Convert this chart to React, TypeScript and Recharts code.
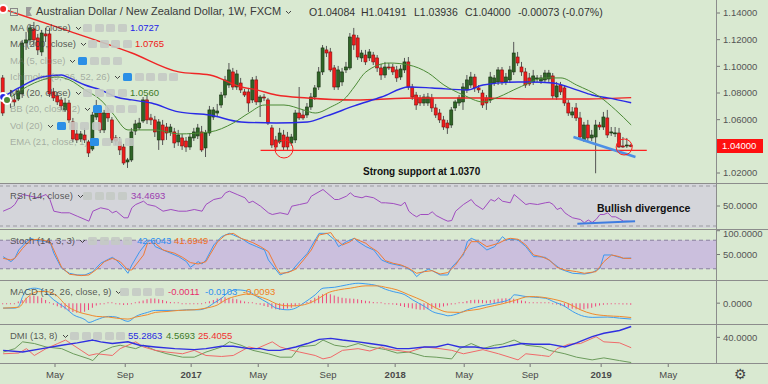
import React from "react";
import {
  ComposedChart,
  Bar,
  Line,
  XAxis,
  YAxis,
  ReferenceLine,
  ReferenceArea,
  ReferenceDot,
} from "recharts";

const W = 768;
const AXIS_W = 51;
const X_DOMAIN = [-0.8, 183];
const BG = "#d9e9d1";
const FONT = "'Liberation Sans', Arial, sans-serif";

// weekly AUD/NZD candles, Feb 2016 -> Feb 2019: [open, high, low, close]
const ohlc = [
  [1.0913, 1.0935, 1.0628, 1.065], [1.0748, 1.08, 1.0725, 1.0778], [1.0763, 1.0823, 1.0688, 1.0733],
  [1.0748, 1.0778, 1.0703, 1.0733], [1.0755, 1.0838, 1.074, 1.0815], [1.0793, 1.1198, 1.0763, 1.1175],
  [1.1175, 1.1258, 1.1123, 1.1198], [1.1198, 1.1318, 1.116, 1.1288], [1.128, 1.1333, 1.1153, 1.1198],
  [1.1213, 1.1243, 1.1085, 1.1123], [1.1108, 1.1273, 1.1078, 1.125], [1.1243, 1.1288, 1.1183, 1.1228],
  [1.1243, 1.1288, 1.077, 1.0793], [1.0808, 1.0838, 1.074, 1.0763], [1.0778, 1.0808, 1.071, 1.0733],
  [1.0748, 1.077, 1.0673, 1.0703], [1.0673, 1.0763, 1.0658, 1.0725], [1.0725, 1.0748, 1.0575, 1.0598],
  [1.0583, 1.0613, 1.0433, 1.0455], [1.0493, 1.0523, 1.0425, 1.0448], [1.0455, 1.0515, 1.0433, 1.0493],
  [1.0485, 1.0538, 1.0425, 1.0448], [1.0433, 1.0448, 1.032, 1.035], [1.038, 1.0658, 1.0365, 1.0635],
  [1.062, 1.0748, 1.0598, 1.0658], [1.065, 1.0673, 1.05, 1.0523], [1.0523, 1.0673, 1.05, 1.065],
  [1.065, 1.0688, 1.0583, 1.0613], [1.0598, 1.062, 1.0425, 1.0448], [1.0463, 1.0485, 1.041, 1.044],
  [1.0433, 1.047, 1.0335, 1.0373], [1.0395, 1.0418, 1.026, 1.0275], [1.0283, 1.0313, 1.0238, 1.0298],
  [1.0298, 1.0538, 1.0283, 1.0508], [1.0515, 1.0598, 1.0485, 1.0568], [1.0538, 1.0613, 1.0523, 1.0575],
  [1.059, 1.077, 1.0575, 1.0748], [1.0748, 1.0778, 1.0568, 1.0598], [1.0613, 1.0643, 1.056, 1.0598],
  [1.0598, 1.0628, 1.047, 1.0508], [1.0448, 1.0605, 1.0373, 1.0583], [1.056, 1.0598, 1.041, 1.0448],
  [1.0545, 1.0575, 1.0448, 1.05], [1.0508, 1.0568, 1.0478, 1.0545], [1.0508, 1.0538, 1.0388, 1.0425],
  [1.0433, 1.0523, 1.0403, 1.0485], [1.0463, 1.0493, 1.0373, 1.0403], [1.044, 1.047, 1.0358, 1.0395],
  [1.0395, 1.05, 1.0373, 1.047], [1.0463, 1.0538, 1.044, 1.0508], [1.0478, 1.0568, 1.0455, 1.0538],
  [1.0508, 1.0553, 1.0358, 1.0373], [1.0388, 1.0523, 1.032, 1.05], [1.05, 1.0703, 1.0478, 1.0673],
  [1.062, 1.0695, 1.0598, 1.0673], [1.065, 1.0718, 1.062, 1.0665], [1.071, 1.0808, 1.0688, 1.0785],
  [1.0785, 1.0928, 1.0763, 1.0898], [1.086, 1.1025, 1.0838, 1.0973], [1.0958, 1.0988, 1.0823, 1.0845],
  [1.0845, 1.0973, 1.0823, 1.0943], [1.0875, 1.0913, 1.08, 1.0823], [1.0808, 1.083, 1.077, 1.0785],
  [1.0808, 1.0838, 1.0658, 1.0725], [1.0748, 1.092, 1.0725, 1.0898], [1.0898, 1.0928, 1.071, 1.0733],
  [1.0733, 1.0785, 1.062, 1.077], [1.077, 1.0793, 1.074, 1.0763], [1.0748, 1.0763, 1.056, 1.0575],
  [1.0538, 1.056, 1.0388, 1.041], [1.0448, 1.0478, 1.0373, 1.0395], [1.0433, 1.0538, 1.0418, 1.05],
  [1.0485, 1.0523, 1.0373, 1.0395], [1.047, 1.0508, 1.0373, 1.0395], [1.0425, 1.0493, 1.0403, 1.047],
  [1.0448, 1.0673, 1.0425, 1.065], [1.065, 1.0845, 1.0598, 1.0613], [1.0635, 1.0673, 1.0598, 1.0613],
  [1.0635, 1.0725, 1.0613, 1.0695], [1.0695, 1.08, 1.0673, 1.077], [1.077, 1.086, 1.0748, 1.0838],
  [1.0845, 1.0995, 1.0823, 1.0958], [1.0958, 1.116, 1.0935, 1.1138], [1.1123, 1.1153, 1.107, 1.11],
  [1.1108, 1.1138, 1.0958, 1.0973], [1.0988, 1.101, 1.0823, 1.0845], [1.0845, 1.1003, 1.0823, 1.0973],
  [1.0883, 1.0988, 1.0853, 1.0958], [1.0973, 1.1033, 1.095, 1.0995], [1.0988, 1.125, 1.0973, 1.122],
  [1.1235, 1.1288, 1.1123, 1.116], [1.1213, 1.1235, 1.1048, 1.107], [1.1063, 1.1123, 1.1033, 1.11],
  [1.1085, 1.1123, 1.101, 1.1033], [1.1063, 1.113, 1.104, 1.1108], [1.1085, 1.1108, 1.101, 1.1033],
  [1.1063, 1.1085, 1.0958, 1.0988], [1.0988, 1.1018, 1.0898, 1.0935], [1.0935, 1.1033, 1.0913, 1.0995],
  [1.0995, 1.1025, 1.0973, 1.0988], [1.0995, 1.1018, 1.0935, 1.0958], [1.0973, 1.1003, 1.0883, 1.0913],
  [1.092, 1.101, 1.0898, 1.098], [1.0973, 1.1063, 1.095, 1.1033], [1.1033, 1.107, 1.0823, 1.0845],
  [1.0845, 1.0868, 1.0748, 1.077], [1.0785, 1.0808, 1.0673, 1.071], [1.0763, 1.0785, 1.0703, 1.0725],
  [1.0725, 1.0793, 1.0703, 1.077], [1.0725, 1.08, 1.0703, 1.077], [1.0763, 1.0793, 1.0658, 1.0688],
  [1.0688, 1.0718, 1.0613, 1.0635], [1.065, 1.068, 1.0575, 1.0598], [1.0598, 1.0628, 1.0523, 1.0545],
  [1.0575, 1.0598, 1.0493, 1.0538], [1.056, 1.0695, 1.0538, 1.0673], [1.0688, 1.0748, 1.0665, 1.0733],
  [1.0725, 1.0785, 1.0703, 1.0763], [1.0733, 1.0875, 1.0673, 1.0845], [1.0823, 1.0935, 1.08, 1.0898],
  [1.086, 1.0958, 1.0838, 1.092], [1.092, 1.0943, 1.0808, 1.0838], [1.0838, 1.086, 1.08, 1.0823],
  [1.08, 1.0823, 1.0688, 1.071], [1.0763, 1.0785, 1.0673, 1.0725], [1.0748, 1.0958, 1.0725, 1.092],
  [1.0875, 1.0935, 1.0853, 1.0913], [1.0883, 1.0995, 1.086, 1.0973], [1.0973, 1.0995, 1.086, 1.0883],
  [1.0883, 1.095, 1.086, 1.092], [1.0898, 1.1003, 1.0875, 1.0973], [1.0958, 1.1183, 1.0935, 1.11],
  [1.107, 1.1108, 1.1003, 1.1025], [1.0995, 1.1033, 1.0928, 1.0958], [1.0958, 1.0988, 1.0838, 1.086],
  [1.0913, 1.095, 1.0853, 1.0868], [1.0883, 1.0973, 1.086, 1.0928], [1.0905, 1.0935, 1.0883, 1.0913],
  [1.089, 1.0935, 1.0868, 1.0913], [1.0898, 1.0973, 1.0875, 1.095], [1.0905, 1.0973, 1.0883, 1.095],
  [1.0928, 1.095, 1.0755, 1.0778], [1.077, 1.0883, 1.0748, 1.0853], [1.086, 1.0883, 1.0785, 1.0808],
  [1.0838, 1.086, 1.0703, 1.0725], [1.0725, 1.0748, 1.0628, 1.065], [1.0635, 1.0695, 1.0613, 1.0658],
  [1.0688, 1.0725, 1.059, 1.0613], [1.0613, 1.0658, 1.0448, 1.047], [1.0448, 1.0583, 1.0433, 1.056],
  [1.056, 1.0598, 1.044, 1.0463], [1.0463, 1.0523, 1.044, 1.0485], [1.047, 1.0598, 1.0198, 1.056],
  [1.056, 1.0583, 1.0523, 1.0545], [1.0545, 1.0658, 1.0523, 1.062], [1.0613, 1.0673, 1.0463, 1.0485],
  [1.05, 1.0545, 1.0478, 1.0508], [1.05, 1.0545, 1.047, 1.0501], [1.05, 1.0538, 1.0388, 1.0395],
  [1.0403, 1.047, 1.0388, 1.0395], [1.0403, 1.0463, 1.0388, 1.041], [1.04084, 1.04191, 1.03936, 1.04],
];

// moving averages [week, value]
const ma200 = [
  [0, 1.143], [16, 1.1273], [33, 1.11], [45, 1.0958], [53, 1.0935], [61, 1.0845], [65, 1.0823],
  [70, 1.0785], [78, 1.0763], [90, 1.0748], [106, 1.0763], [123, 1.0763], [135, 1.0755], [150, 1.0755], [161, 1.0765],
];
const ma50 = [
  [0, 1.077], [4, 1.0838], [10, 1.092], [15, 1.0935], [17, 1.0913], [21, 1.086], [25, 1.0823], [29, 1.077],
  [33, 1.0748], [38, 1.0725], [45, 1.0658], [53, 1.0635], [61, 1.0583], [70, 1.0575], [78, 1.0583], [83, 1.0628],
  [90, 1.0703], [97, 1.077], [104, 1.0845], [110, 1.0838], [119, 1.0823], [123, 1.086], [132, 1.0883], [135, 1.0883],
  [141, 1.0875], [147, 1.0823], [151, 1.0785], [155, 1.0763], [161, 1.0727],
];
const ma20 = [
  [1, 1.0748], [8, 1.0875], [14, 1.092], [17, 1.0898], [21, 1.0823], [25, 1.0748], [28, 1.065], [32, 1.0523],
  [39, 1.0523], [45, 1.0493], [53, 1.0508], [59, 1.0575], [63, 1.065], [67, 1.071], [72, 1.071], [77, 1.0673],
  [80, 1.065], [84, 1.0695], [88, 1.077], [90, 1.0845], [93, 1.0958], [99, 1.1025], [104, 1.101], [109, 1.095],
  [113, 1.086], [118, 1.0785], [123, 1.0733], [127, 1.077], [132, 1.0838], [139, 1.0913], [143, 1.0913],
  [147, 1.086], [153, 1.077], [157, 1.0673], [161, 1.056],
];

const rsi = [
  [0, 44.8], [2, 48.2], [3, 51.5], [4, 58.2], [5, 61.5], [7, 59.8], [9, 58.2], [11, 61.5], [12, 56.5], [13, 44.8],
  [15, 43.2], [17, 43.2], [19, 39.8], [21, 36.5], [22, 34.8], [23, 44.8], [25, 48.2], [27, 46.5], [28, 43.2],
  [29, 44.8], [31, 38.2], [32, 38.2], [33, 48.2], [34, 51.5], [36, 54.8], [37, 51.5], [39, 49.8], [41, 44.8],
  [43, 46.5], [45, 44.8], [47, 44.8], [49, 46.5], [51, 44.8], [52, 51.5], [54, 56.5], [56, 58.2], [57, 63.2],
  [58, 64.8], [60, 61.5], [62, 58.2], [63, 53.2], [64, 54.8], [66, 49.8], [68, 43.2], [69, 41.5], [71, 43.2],
  [73, 41.5], [74, 49.8], [76, 51.5], [78, 53.2], [79, 59.8], [82, 66.5], [83, 63.2], [85, 56.5], [86, 56.5],
  [88, 59.8], [89, 63.2], [90, 59.8], [92, 58.2], [93, 59.8], [95, 58.2], [97, 53.2], [98, 53.2], [100, 52.5],
  [102, 50.5], [103, 53.8], [104, 44.8], [105, 41.5], [106, 39.2], [107, 41.5], [109, 41.5], [110, 44.2],
  [111, 40.5], [113, 36.5], [114, 34.8], [115, 35.5], [116, 44.8], [118, 51.5], [120, 56.5], [121, 51.5],
  [123, 46.5], [125, 56.5], [126, 54.8], [127, 58.2], [128, 54.8], [130, 53.2], [131, 61.5], [132, 58.2],
  [134, 51.5], [135, 52.5], [137, 51.5], [139, 53.2], [140, 53.8], [141, 51.5], [142, 46.5], [143, 48.2],
  [144, 43.2], [145, 40.5], [146, 38.2], [148, 36.5], [149, 33.2], [150, 36], [151, 33.5], [152, 36.5],
  [153, 41.5], [154, 41.5], [155, 43.2], [156, 39.2], [157, 39.2], [158, 37.2], [159, 34.8], [160, 34.8], [161, 34.47],
];

const stochK = [
  [0, 45.5], [2, 35], [3, 42], [4, 59.5], [6, 77], [7, 84], [9, 79], [12, 77], [13, 52.5], [15, 21], [17, 10.5],
  [19, 7], [21, 7], [23, 14], [25, 31.5], [27, 40], [28, 44], [29, 38.5], [31, 21], [32, 10.5], [33, 28], [35, 56],
  [37, 77], [38, 80.5], [39, 66.5], [41, 59.5], [43, 52.5], [45, 45.5], [47, 35], [48, 23], [50, 35], [51, 30],
  [52, 38.5], [54, 70], [56, 87.5], [58, 94.5], [59, 91], [61, 84], [63, 73.5], [65, 66.5], [67, 59.5], [68, 38.5],
  [70, 17.5], [71, 7], [72, 10.5], [74, 16], [76, 35], [78, 52.5], [80, 80.5], [81, 94.5], [83, 94.5], [85, 80.5],
  [86, 66.5], [88, 77], [90, 84], [91, 77], [93, 66.5], [95, 59.5], [97, 38.5], [99, 31.5], [101, 28], [103, 24.5],
  [105, 14], [106, 3.5], [107, 10.5], [109, 19], [110, 16], [112, 7], [114, 7], [115, 23], [118, 49], [119, 77],
  [120, 84], [121, 80.5], [123, 66.5], [124, 59.5], [126, 66.5], [128, 87.5], [129, 80.5], [130, 82], [132, 80.5],
  [134, 66.5], [136, 45.5], [137, 45.5], [139, 44], [141, 31.5], [143, 19], [144, 16], [146, 10.5], [149, 9],
  [151, 12], [153, 21], [154, 49], [156, 49], [158, 44], [159, 42], [161, 42.6],
];
const stochD = [
  [0, 42], [2, 38.5], [3, 42], [5, 63], [7, 80.5], [9, 82], [12, 77], [13, 59.5], [15, 23], [17, 8.4], [20, 5.6],
  [22, 7], [24, 19], [26, 35], [28, 42], [30, 35], [32, 17.5], [33, 17.5], [36, 49], [37, 73.5], [39, 73.5],
  [41, 59.5], [44, 52.5], [46, 44], [48, 33], [50, 30], [52, 35], [53, 49], [55, 77], [57, 91], [59, 94.5],
  [61, 84], [64, 75], [66, 66.5], [68, 56], [70, 23], [71, 10.5], [73, 12], [75, 19], [77, 38.5], [79, 59.5],
  [81, 91], [84, 96], [85, 84], [87, 70], [89, 77], [90, 84], [93, 73.5], [94, 66.5], [96, 56], [98, 37],
  [100, 31.5], [102, 28], [104, 21], [106, 10.5], [108, 14], [110, 16], [112, 9], [114, 12], [116, 28],
  [118, 52.5], [120, 77], [122, 77], [124, 66.5], [127, 73.5], [129, 82], [130, 84], [132, 82], [134, 70],
  [136, 49], [138, 45.5], [140, 38.5], [142, 23], [144, 17.5], [147, 14], [149, 10.5], [152, 14], [154, 35],
  [156, 49], [158, 45.5], [159, 42], [161, 41.7],
];

const macdLine = [
  [0, -0.0032], [3, -0.0032], [4, -0.002], [5, 0.0043], [6, 0.0086], [8, 0.0097], [10, 0.0086], [13, 0.0021],
  [16, -0.0032], [18, -0.0075], [21, -0.0107], [22, -0.0125], [24, -0.0107], [27, -0.0086], [29, -0.009],
  [32, -0.0118], [34, -0.0086], [37, -0.006], [39, -0.0047], [42, -0.0047], [45, -0.0047], [47, -0.0043],
  [50, -0.0043], [52, -0.0032], [54, 0], [56, 0.0032], [58, 0.0075], [60, 0.0086], [63, 0.0075], [65, 0.0043],
  [68, 0], [70, -0.0032], [73, -0.0043], [75, -0.0032], [77, 0], [80, 0.0054], [82, 0.0097], [85, 0.0103],
  [88, 0.0118], [91, 0.0129], [93, 0.0125], [96, 0.0112], [98, 0.009], [100, 0.0075], [103, 0.0054],
  [105, 0.0021], [108, -0.0021], [110, -0.0054], [113, -0.0075], [114, -0.0082], [117, -0.0064], [119, -0.0043],
  [122, -0.0021], [124, -0.0011], [127, 0.0004], [130, 0.0026], [131, 0.0054], [134, 0.0043], [136, 0.0039],
  [139, 0.0032], [141, 0.0011], [144, -0.0021], [146, -0.0054], [149, -0.0086], [151, -0.0092], [155, -0.009],
  [158, -0.0097], [161, -0.0103],
];
const macdSignal = [
  [0, -0.0032], [4, -0.0026], [6, 0.0032], [9, 0.0075], [11, 0.0075], [14, 0.0043], [16, -0.0011], [19, -0.0054],
  [22, -0.0075], [24, -0.0086], [27, -0.009], [29, -0.0097], [32, -0.0103], [34, -0.009], [37, -0.0075],
  [39, -0.006], [42, -0.0054], [45, -0.0047], [49, -0.0043], [52, -0.0032], [55, -0.0011], [57, 0.0021],
  [60, 0.0047], [63, 0.006], [65, 0.0047], [68, 0.0021], [70, -0.0004], [73, -0.0017], [75, -0.0017],
  [78, -0.0004], [81, 0.0032], [83, 0.0064], [86, 0.0086], [89, 0.0097], [93, 0.0112], [96, 0.0112],
  [98, 0.0103], [101, 0.0086], [104, 0.0054], [108, 0.0011], [111, -0.0032], [114, -0.0058], [117, -0.006],
  [119, -0.0049], [122, -0.0039], [124, -0.0026], [128, -0.0004], [131, 0.0017], [135, 0.0043], [138, 0.0039],
  [141, 0.0026], [145, -0.0004], [148, -0.0043], [151, -0.0069], [155, -0.0082], [158, -0.0086], [161, -0.0093],
];
const macdHist = [
  -0.0004, -0.0004, -0.0003, -0.0002, 0.001, 0.002, 0.0035, 0.0045, 0.005, 0.0045, 0.0035, 0.002, 0.0005,
  -0.001, -0.002, -0.003, -0.004, -0.005, -0.0058, -0.0062, -0.006, -0.0055, -0.0045, -0.003, -0.0015,
  -0.0008, -0.0004, 0.0003, 0.0002, -0.0003, -0.0008, -0.0012, -0.001, -0.0004, 0.0005, 0.001, 0.0018,
  0.0025, 0.003, 0.003, 0.0025, 0.002, 0.0012, 0.0008, 0.0004, 0.0002, -0.0002, -0.0003, -0.0003, -0.0002,
  -0.0002, -0.0003, 0.0002, 0.0012, 0.002, 0.003, 0.0035, 0.0038, 0.0035, 0.003, 0.0025, 0.0018, 0.001,
  0.0005, 0.0002, -0.0004, -0.001, -0.0018, -0.0025, -0.0035, -0.004, -0.0042, -0.004, -0.0035, -0.003,
  -0.002, -0.001, -0.0002, 0.0008, 0.002, 0.0035, 0.0048, 0.0058, 0.0062, 0.0058, 0.005, 0.0042, 0.0035,
  0.0032, 0.003, 0.0028, 0.0025, 0.002, 0.0016, 0.0012, 0.0008, 0.0004, 0.0001, -0.0003, -0.0005, -0.0008,
  -0.0012, -0.0018, -0.0025, -0.003, -0.0035, -0.004, -0.0042, -0.0042, -0.004, -0.0038, -0.0033, -0.0028,
  -0.0022, -0.0015, -0.0008, -0.0003, 0.0002, 0.0008, 0.0014, 0.002, 0.0022, 0.0022, 0.002, 0.0018, 0.002,
  0.0024, 0.0028, 0.003, 0.0032, 0.003, 0.0028, 0.0025, 0.0018, 0.0012, 0.0006, 0.0003, 0.0002, 0.0001, 0,
  0.0001, -0.0001, -0.0008, -0.0015, -0.0022, -0.003, -0.0036, -0.004, -0.0042, -0.004, -0.0035, -0.003,
  -0.0022, -0.0015, -0.001, -0.0008, -0.0006, -0.0005, -0.0006, -0.0008, -0.0009, -0.0011,
];

const adx = [
  [0, 21.7], [5, 19.3], [10, 24.1], [15, 28.9], [19, 32.3], [23, 36.2], [25, 33.7], [28, 31.3], [32, 33.7],
  [35, 28.9], [39, 26.5], [44, 24.1], [49, 22.7], [52, 24.1], [56, 27.5], [59, 27.5], [63, 24.1], [66, 24.1],
  [68, 21.7], [71, 21.7], [75, 26.5], [78, 31.3], [81, 37.1], [84, 38.6], [87, 36.2], [91, 33.7], [94, 31.3],
  [98, 28.2], [101, 24.1], [104, 24.1], [108, 26.5], [111, 26.5], [114, 30.4], [117, 26.5], [121, 26.5],
  [124, 24.1], [127, 25.6], [133, 31.3], [136, 30.4], [140, 30.4], [144, 26.5], [147, 32.3], [151, 41],
  [154, 45.8], [158, 49.6], [161, 55.29],
];
const plusDI = [
  [0, 19.3], [3, 24.1], [5, 33.7], [8, 31.3], [11, 26.5], [15, 24.1], [18, 16.9], [22, 9.7], [23, 7.3],
  [25, 19.3], [28, 26.5], [30, 28.9], [34, 24.1], [36, 28.9], [39, 21.7], [42, 16.9], [46, 12.1], [49, 12.1],
  [52, 19.3], [56, 26.5], [58, 33.7], [61, 28.9], [64, 21.7], [68, 16.9], [71, 12.1], [74, 12.1], [76, 26.5],
  [80, 28.9], [82, 36.2], [85, 28.9], [88, 26.5], [91, 31.3], [94, 26.5], [98, 22.9], [101, 17.9], [104, 19.3],
  [108, 13.1], [111, 12.1], [115, 9.7], [117, 24.1], [120, 31.3], [123, 24.1], [126, 28.9], [128, 30.4],
  [131, 36.2], [134, 28.9], [138, 26.5], [140, 21.7], [144, 16.9], [147, 12.1], [151, 8.3], [154, 11.1],
  [158, 7.3], [161, 4.57],
];
const minusDI = [
  [0, 16.9], [4, 17.9], [6, 24.1], [8, 14.5], [11, 24.1], [14, 31.3], [16, 36.2], [20, 21.7], [22, 14.5],
  [24, 16.9], [28, 14.5], [30, 24.1], [34, 33.7], [36, 26.5], [39, 21.7], [42, 19.3], [46, 16.9], [49, 21.7],
  [52, 14.5], [56, 13.1], [59, 14.5], [63, 26.5], [65, 24.1], [69, 33.7], [71, 26.5], [74, 21.7], [76, 19.3],
  [80, 14.5], [82, 9.7], [84, 12.1], [87, 21.7], [91, 24.1], [94, 20.8], [97, 26.5], [98, 24.1], [101, 21.7],
  [104, 19.3], [108, 26.5], [112, 24.1], [115, 21.7], [118, 16.9], [123, 22.7], [127, 16.9], [132, 8.3],
  [134, 16.9], [138, 14.5], [140, 13.1], [142, 24.1], [145, 30.4], [148, 31.3], [152, 41], [154, 33.7],
  [158, 32.3], [161, 25.41],
];

const monthTicks = [13.3, 31.3, 48.2, 65.4, 83.3, 100.5, 118.2, 135.1, 153.3, 170.5];
const monthLabels = ["May", "Sep", "2017", "May", "Sep", "2018", "May", "Sep", "2019", "May"];
const priceTicks = [1.02, 1.04, 1.06, 1.08, 1.1, 1.12, 1.14];

const SUPPORT = 1.037;

const candleData = ohlc.map(([o, h, l, c], t) => ({ t, o, c, range: [l, h] }));
const histData = macdHist.map((h, t) => ({ t, h }));
const pts = (arr: number[][]) => arr.map(([t, v]) => ({ t, v }));

const Candle = (props: any) => {
  const { x, y, width, height, payload } = props;
  if (!payload) return null;
  const [lo, hi] = payload.range;
  const k = hi === lo ? 0 : height / (hi - lo);
  const cx = x + width / 2;
  const top = y + (hi - Math.max(payload.o, payload.c)) * k;
  const bot = y + (hi - Math.min(payload.o, payload.c)) * k;
  const up = payload.c >= payload.o;
  return (
    <g>
      <line x1={cx} x2={cx} y1={y} y2={y + height} stroke="#555" strokeWidth={1} />
      <rect
        x={cx - 1.5}
        y={top}
        width={3}
        height={Math.max(bot - top, 1)}
        fill={up ? "#2e6526" : "#f21b1b"}
        stroke={up ? "#16300f" : "#7a1212"}
        strokeWidth={0.6}
      />
    </g>
  );
};

const XTick = (props: any) => {
  const { x, y, payload } = props;
  const label = monthLabels[monthTicks.indexOf(payload.value)] || "";
  const isYear = /^\d{4}$/.test(label);
  return (
    <text x={x} y={y + 9} textAnchor="middle" fontSize={9.5} fontFamily={FONT}
      fontWeight={isYear ? 700 : 400} fill="#4a4a4a">
      {label}
    </text>
  );
};

const Pane = ({ top, height, data, yDomain, yTicks, fmt, showX = false, children }: any) => (
  <div style={{ position: "absolute", left: 0, top }}>
    <ComposedChart width={W} height={height} data={data} margin={{ top: 0, right: 0, bottom: 0, left: 0 }}>
      <XAxis
        type="number"
        dataKey="t"
        domain={X_DOMAIN}
        allowDataOverflow
        hide={!showX}
        height={20}
        ticks={monthTicks}
        tick={<XTick />}
        tickSize={3}
        axisLine={false}
        tickLine={{ stroke: "#777" }}
      />
      <YAxis
        orientation="right"
        width={AXIS_W}
        domain={yDomain}
        allowDataOverflow
        ticks={yTicks}
        tickFormatter={fmt}
        axisLine={false}
        tickLine={{ stroke: "#777" }}
        tickSize={3}
        tickMargin={3}
        tick={{ fontSize: 9.5, fill: "#555", fontFamily: FONT }}
      />
      {children}
    </ComposedChart>
  </div>
);

const Chevron = () => (
  <svg width={7} height={5} style={{ marginLeft: 4, verticalAlign: "middle" }}>
    <polyline points="1,1 3.5,3.5 6,1" fill="none" stroke="#444" strokeWidth={1} />
  </svg>
);

const Txt = ({ x, y, s = 9.5, c = "#444", b = false, children }: any) => (
  <div style={{ position: "absolute", left: x, top: y - s * 0.6, fontSize: s, lineHeight: `${s * 1.2}px`,
    color: c, fontWeight: b ? 700 : 400, whiteSpace: "nowrap", fontFamily: FONT }}>
    {children}
  </div>
);

const Icons = ({ x, y, n = 4, blue = -1 }: any) => (
  <>
    {Array.from({ length: n }).map((_, k) => (
      <div key={k} style={{ position: "absolute", left: x + k * 11.5, top: y - 4, width: 9, height: 8,
        borderRadius: 1.5, background: k === blue ? "#2b8fe6" : "rgba(196,202,196,0.9)" }} />
    ))}
  </>
);

const Legend = ({ label, y, ix, n = 4, blue = -1, dim = false, values = [] }: any) => (
  <>
    <Txt x={10} y={y} c={dim ? "rgba(120,120,120,0.55)" : "rgba(60,60,60,0.85)"}>
      {label}
      <Chevron />
    </Txt>
    <Icons x={ix} y={y} n={n} blue={blue} />
    {values.map(([vx, text, col]: any) => (
      <Txt key={vx} x={vx} y={y} c={col}>{text}</Txt>
    ))}
  </>
);

const hline = (top: number) => (
  <div style={{ position: "absolute", left: 0, top, width: W, height: 1, background: "#8c8c8c" }} />
);

export default function App() {
  return (
    <div style={{ position: "relative", width: W, height: 384, background: BG, overflow: "hidden", fontFamily: FONT }}>
      <style>{"body{margin:0}"}</style>

      {/* price pane */}
      <Pane top={0} height={184} data={candleData} yDomain={[1.01175, 1.14975]} yTicks={priceTicks}
        fmt={(v: number) => v.toFixed(5)}>
        <Bar dataKey="range" barSize={3} shape={<Candle />} isAnimationActive={false} />
        <Line data={pts(ma200)} dataKey="v" type="monotone" stroke="#ef2626" strokeWidth={1.4} dot={false} isAnimationActive={false} />
        <Line data={pts(ma50)} dataKey="v" type="monotone" stroke="#2a2ae6" strokeWidth={1.4} dot={false} isAnimationActive={false} />
        <Line data={pts(ma20)} dataKey="v" type="monotone" stroke="#4b8a35" strokeWidth={1} dot={false} isAnimationActive={false} />
        <ReferenceLine segment={[{ x: 66, y: SUPPORT }, { x: 165, y: SUPPORT }]} stroke="#ff2020" strokeWidth={1.4} />
        <ReferenceLine segment={[{ x: 146.2, y: 1.047 }, { x: 162.1, y: 1.032 }]} stroke="#4d8fe6" strokeWidth={2.5} />
        <ReferenceDot x={72} y={1.038} r={9} fill="none" stroke="#ff2020" strokeWidth={1} />
        <ReferenceDot x={159.2} y={1.0395} r={8} fill="none" stroke="#ff2020" strokeWidth={1} />
      </Pane>

      {/* RSI */}
      <Pane top={184} height={45} data={pts(rsi)} yDomain={[27, 72]} yTicks={[50]} fmt={(v: number) => v.toFixed(4)}>
        <ReferenceArea y1={28} y2={72} fill="#d4d5da" fillOpacity={1} stroke="none" />
        <ReferenceLine y={70} stroke="#9a9aa0" strokeDasharray="4 3" />
        <ReferenceLine y={30} stroke="#9a9aa0" strokeDasharray="4 3" />
        <Line dataKey="v" type="linear" stroke="#a04cc0" strokeWidth={1} dot={false} isAnimationActive={false} />
        <ReferenceLine segment={[{ x: 147.2, y: 32.2 }, { x: 162, y: 34.8 }]} stroke="#3f7de0" strokeWidth={2} />
      </Pane>

      {/* Stochastic */}
      <Pane top={229} height={51} data={pts(stochK)} yDomain={[-3.6, 103.6]} yTicks={[0, 50, 100]} fmt={(v: number) => v.toFixed(4)}>
        <ReferenceArea y1={20} y2={80} fill="#cbbfdd" fillOpacity={1} stroke="none" />
        <ReferenceLine y={80} stroke="#8a7fa0" strokeDasharray="4 3" />
        <ReferenceLine y={20} stroke="#8a7fa0" strokeDasharray="4 3" />
        <Line dataKey="v" type="linear" stroke="#3d98f0" strokeWidth={1} dot={false} isAnimationActive={false} />
        <Line data={pts(stochD)} dataKey="v" type="linear" stroke="#f07a34" strokeWidth={1} dot={false} isAnimationActive={false} />
      </Pane>

      {/* MACD */}
      <Pane top={280} height={44} data={histData} yDomain={[-0.0135, 0.015]} yTicks={[0]} fmt={(v: number) => v.toFixed(4)}>
        <Bar dataKey="h" barSize={1} fill="#f0457c" minPointSize={1} isAnimationActive={false} />
        <Line data={pts(macdLine)} dataKey="v" type="monotone" stroke="#3d9cf0" strokeWidth={1} dot={false} isAnimationActive={false} />
        <Line data={pts(macdSignal)} dataKey="v" type="monotone" stroke="#f08a2e" strokeWidth={1} dot={false} isAnimationActive={false} />
      </Pane>

      {/* DMI + time axis */}
      <Pane top={324} height={60} data={pts(adx)} yDomain={[2.5, 58.8]} yTicks={[40]} fmt={(v: number) => v.toFixed(4)} showX>
        <Line data={pts(plusDI)} dataKey="v" type="linear" stroke="#6c9c5c" strokeWidth={1} dot={false} isAnimationActive={false} />
        <Line data={pts(minusDI)} dataKey="v" type="linear" stroke="#f06a6a" strokeWidth={1} dot={false} isAnimationActive={false} />
        <Line dataKey="v" type="linear" stroke="#2f2fe0" strokeWidth={1.4} dot={false} isAnimationActive={false} />
      </Pane>

      {hline(183)}
      {hline(229)}
      {hline(280)}
      {hline(324)}
      {hline(363)}
      <div style={{ position: "absolute", left: 716, top: 0, width: 1, height: 364, background: "#8c8c8c" }} />

      {/* header */}
      <div style={{ position: "absolute", left: 10, top: 8, width: 6, height: 6, border: "1px solid #888" }}>
        <div style={{ position: "absolute", left: 1, top: 2.5, width: 4, height: 1, background: "#888" }} />
      </div>
      <div style={{ position: "absolute", left: 26, top: 7, width: 6, height: 9, background: "#9a9a9a", clipPath: "polygon(0 0,100% 0,60% 50%,100% 100%,0 100%)" }} />
      <Txt x={36} y={12} s={11} c="#3a3a3a">Australian Dollar / New Zealand Dollar, 1W, FXCM<Chevron /></Txt>
      <Txt x={309} y={12} s={10.5} c="#333">O1.04084</Txt>
      <Txt x={361} y={12} s={10.5} c="#333">H1.04191</Txt>
      <Txt x={414} y={12} s={10.5} c="#333">L1.03936</Txt>
      <Txt x={465} y={12} s={10.5} c="#333">C1.04000</Txt>
      <Txt x={518} y={12} s={10.5} c="#333">-0.00073 (-0.07%)</Txt>

      <Legend label="MA (50, close)" y={28} ix={83} values={[[130, "1.0727", "#2424e8"]]} />
      <Legend label="MA (200, close)" y={44} ix={88} values={[[135, "1.0765", "#f01818"]]} />
      <Legend label="MA (5, close)" y={61} ix={78} blue={0} dim />
      <Legend label="Ichimoku (9, 26, 52, 26)" y={77} ix={123} n={5} blue={0} dim />
      <Legend label="MA (20, close)" y={93} ix={83} values={[[130, "1.0560", "#3d7a28"]]} />
      <Legend label="BB (20, close, 2)" y={109} ix={93} blue={0} dim />
      <Legend label="Vol (20)" y={126} ix={57} blue={0} dim />
      <Legend label="EMA (21, close, 1)" y={142} ix={90} blue={0} dim />

      <Legend label="RSI (14, close)" y={196} ix={83} values={[[131, "34.4693", "#9c40b0"]]} />
      <Legend label="Stoch (14, 3, 3)" y={241} ix={88} values={[[137, "42.6043", "#2f8ff0"], [174, "41.6949", "#f07020"]]} />
      <Legend label="MACD (12, 26, close, 9)" y={292} ix={120} values={[[168, "-0.0011", "#e8306c"], [205, "-0.0103", "#2f8ff0"], [243, "-0.0093", "#f07c20"]]} />
      <Legend label="DMI (13, 8)" y={336} ix={70} n={5} values={[[128, "55.2863", "#2a2ae0"], [166, "4.5693", "#3d7a28"], [198, "25.4055", "#f03030"]]} />

      <Txt x={363} y={172} s={10} b c="#111">Strong support at 1.0370</Txt>
      <Txt x={597} y={208} s={10.5} b c="#111">Bullish divergence</Txt>

      <div style={{ position: "absolute", left: 717, top: 139, width: 46, height: 14, background: "#ff1010",
        color: "#fff", fontSize: 9.5, lineHeight: "14px", paddingLeft: 5, boxSizing: "border-box", fontFamily: FONT }}>
        1.04000
      </div>
      <div style={{ position: "absolute", left: 734, top: 366, fontSize: 14, color: "#444", fontFamily: "'DejaVu Sans'" }}>⚙</div>
    </div>
  );
}
